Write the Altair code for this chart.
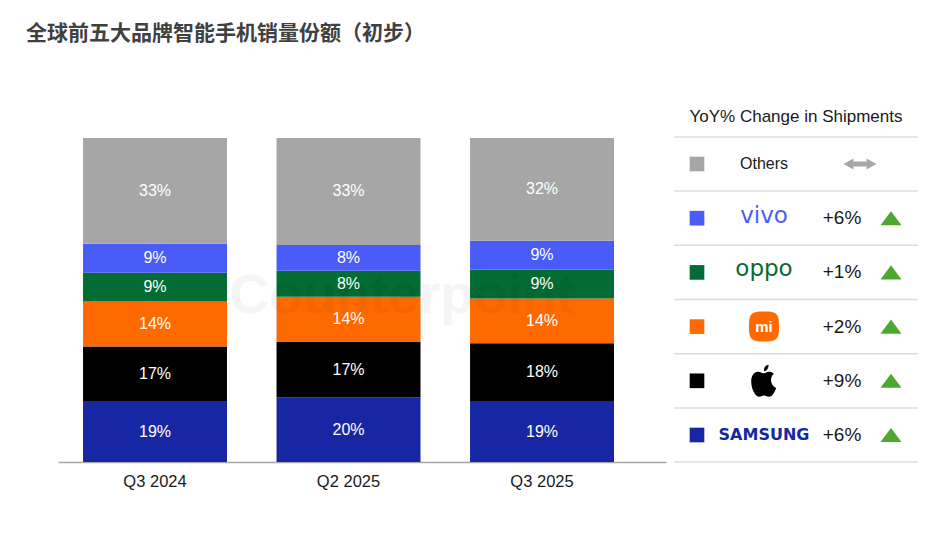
import altair as alt
import pandas as pd

# ---------------- data ----------------
title_text = "全球前五大品牌智能手机销量份额（初步）"
quarters = ["Q3 2024", "Q2 2025", "Q3 2025"]
brands = ["Samsung", "Apple", "Xiaomi", "OPPO", "vivo", "Others"]  # bottom -> top of stack
samsung = [19, 20, 19]
apple = [17, 17, 18]
xiaomi = [14, 14, 14]
oppo = [9, 8, 9]
vivo = [9, 8, 9]
others = [33, 33, 32]
brand_colors = ["#1727a3", "#000000", "#ff6a00", "#036b34", "#4a5cf7", "#a6a6a6"]

header_text = "YoY% Change in Shipments"
legend_brands = ["Others", "vivo", "OPPO", "Xiaomi", "Apple", "Samsung"]  # table rows, top -> bottom
legend_logo_text = ["Others", "vivo", "oppo", "mi", "", "SAMSUNG"]
yoy_change = ["", "+6%", "+1%", "+2%", "+9%", "+6%"]
yoy_direction = ["flat", "up", "up", "up", "up", "up"]
watermark = "Counterpoint"

# ---------------- tables ----------------
series = [samsung, apple, xiaomi, oppo, vivo, others]
rows = []
for bi, (b, vals) in enumerate(zip(brands, series)):
    for q, v in zip(quarters, vals):
        rows.append({"quarter": q, "brand": b, "order": bi, "share": v, "label": f"{v}%"})
df = pd.DataFrame(rows)

leg = pd.DataFrame({
    "brand": legend_brands,
    "row": list(range(len(legend_brands))),
    "logo": legend_logo_text,
    "change": yoy_change,
    "dir": yoy_direction,
})
bounds = pd.DataFrame({"b": [i - 0.5 for i in range(len(legend_brands) + 1)]})

FONT = "Liberation Sans"
H = 366
WL = 608
WR = 244

color_scale = alt.Scale(domain=brands, range=brand_colors)

# ---------------- left: stacked bars ----------------
base = alt.Chart(df).transform_stack(
    stack="share", groupby=["quarter"], as_=["y0", "y1"],
    sort=[alt.SortField("order", "ascending")], offset="normalize"
).transform_calculate(mid="(datum.y0 + datum.y1) / 2")

xenc = alt.X(
    "quarter:N", sort=quarters,
    scale=alt.Scale(paddingInner=0.256, paddingOuter=0.199, align=0.325),
    axis=alt.Axis(title=None, labelAngle=0, ticks=False, domainColor="#a6a6a6",
                  domainWidth=1.5, labelFontSize=16.5, labelFont=FONT,
                  labelColor="#1a1a1a", labelPadding=11),
)
yscale = alt.Scale(domain=[0, 366 / 324], nice=False, zero=True)

bars = base.mark_bar(strokeWidth=0).encode(
    x=xenc,
    y=alt.Y("y0:Q", scale=yscale, axis=None),
    y2="y1:Q",
    color=alt.Color("brand:N", scale=color_scale, legend=None),
)
bar_labels = base.mark_text(color="white", fontSize=16, font=FONT, baseline="middle").encode(
    x=xenc,
    y=alt.Y("mid:Q", scale=yscale, axis=None),
    text="label:N",
)
wm = alt.Chart(pd.DataFrame({"t": [watermark]})).mark_text(
    font=FONT, fontSize=55, fontWeight="bold", color="#000000", opacity=0.035, baseline="middle"
).encode(x=alt.value(344), y=alt.value(200), text="t:N")

left = alt.layer(bars, bar_labels, wm).properties(width=WL, height=H)

# ---------------- right: YoY table ----------------
yr = alt.Scale(domain=[-1.2546, 5.498], reverse=True, nice=False, zero=False)
lb = alt.Chart(leg)
yrow = alt.Y("row:Q", scale=yr, axis=None)

sep = alt.Chart(bounds).mark_rule(color="#dcdcdc", strokeWidth=1.5).encode(
    y=alt.Y("b:Q", scale=yr, axis=None), x=alt.value(0), x2=alt.value(WR)
)
header = alt.Chart(pd.DataFrame({"t": [header_text]})).mark_text(
    font=FONT, fontSize=17, color="#1a1a1a", baseline="middle"
).encode(x=alt.value(122), y=alt.value(21), text="t:N")

squares = lb.mark_square(size=215, opacity=1).encode(
    x=alt.value(23), y=yrow, color=alt.Color("brand:N", scale=color_scale, legend=None)
)

others_t = lb.transform_filter("datum.brand == 'Others'").mark_text(
    font=FONT, fontSize=16, color="#1a1a1a", baseline="middle"
).encode(x=alt.value(90), y=yrow, text="logo:N")
vivo_t = lb.transform_filter("datum.brand == 'vivo'").mark_text(
    font="DejaVu Sans", fontSize=23, color="#4a5cf7", baseline="middle", dy=-2
).encode(x=alt.value(90), y=yrow, text="logo:N")
oppo_t = lb.transform_filter("datum.brand == 'OPPO'").mark_text(
    font="DejaVu Sans", fontSize=23, color="#036b34", baseline="middle", dy=-3
).encode(x=alt.value(90), y=yrow, text="logo:N")

rounded_sq = "M-1,0 C-1,-0.86 -0.86,-1 0,-1 C0.86,-1 1,-0.86 1,0 C1,0.86 0.86,1 0,1 C-0.86,1 -1,0.86 -1,0 Z"
mi_bg = lb.transform_filter("datum.brand == 'Xiaomi'").mark_point(
    shape=rounded_sq, filled=True, size=900, color="#ff6a00", opacity=1
).encode(x=alt.value(90), y=yrow)
mi_t = lb.transform_filter("datum.brand == 'Xiaomi'").mark_text(
    font=FONT, fontSize=15, fontWeight="bold", color="white", baseline="middle"
).encode(x=alt.value(90), y=yrow, text="logo:N")

apple_path = (
    "M0.28,-1 C0.12,-0.98 -0.02,-0.82 0,-0.6 C0.16,-0.6 0.3,-0.78 0.28,-1 Z "
    "M0,-0.47 C-0.12,-0.47 -0.24,-0.56 -0.38,-0.56 C-0.62,-0.56 -0.8,-0.3 -0.8,0.05 "
    "C-0.8,0.5 -0.55,1 -0.33,1 C-0.18,1 -0.13,0.92 0,0.92 C0.13,0.92 0.18,1 0.33,1 "
    "C0.52,1 0.68,0.68 0.76,0.45 C0.52,0.34 0.44,0.14 0.44,-0.06 C0.44,-0.24 0.54,-0.38 0.62,-0.44 "
    "C0.5,-0.55 0.38,-0.56 0.3,-0.56 C0.16,-0.56 0.1,-0.47 0,-0.47 Z"
)
apple_m = lb.transform_filter("datum.brand == 'Apple'").mark_point(
    shape=apple_path, filled=True, size=1024, color="#000000", opacity=1
).encode(x=alt.value(90), y=yrow)
samsung_t = lb.transform_filter("datum.brand == 'Samsung'").mark_text(
    font="DejaVu Sans", fontSize=16, fontWeight="bold", color="#1428a0", baseline="middle"
).encode(x=alt.value(90), y=yrow, text="logo:N")

change_t = lb.transform_filter("datum.change != ''").mark_text(
    font=FONT, fontSize=19, color="#1a1a1a", baseline="middle"
).encode(x=alt.value(168), y=yrow, text="change:N")

tri_path = "M0,-0.67 L1,0.67 L-1,0.67 Z"
tri = lb.transform_filter("datum.dir == 'up'").mark_point(
    shape=tri_path, filled=True, size=441, color="#4ea72e", opacity=1
).encode(x=alt.value(217), y=yrow)

arrow_path = ("M-1,0 L-0.4,-0.33 L-0.4,-0.15 L0.4,-0.15 L0.4,-0.33 L1,0 "
              "L0.4,0.33 L0.4,0.15 L-0.4,0.15 L-0.4,0.33 Z")
arrow = lb.transform_filter("datum.dir == 'flat'").mark_point(
    shape=arrow_path, filled=True, size=1089, color="#a6a6a6", opacity=1
).encode(x=alt.value(186), y=yrow)

right = alt.layer(
    sep, header, squares, others_t, vivo_t, oppo_t, mi_bg, mi_t, apple_m, samsung_t, change_t, tri, arrow
).properties(width=WR, height=H)

chart = alt.hconcat(left, right, spacing=7).properties(
    title=alt.TitleParams(
        text=title_text, anchor="start", font="Noto Sans CJK SC", fontSize=21,
        fontWeight="bold", color="#404040", dx=-32, offset=52,
    ),
    padding={"left": 18, "top": 15, "right": 5, "bottom": 5},
    background="white",
).configure_view(stroke=None)

chart.save("out.html", embed_options={"renderer": "svg", "actions": False})
